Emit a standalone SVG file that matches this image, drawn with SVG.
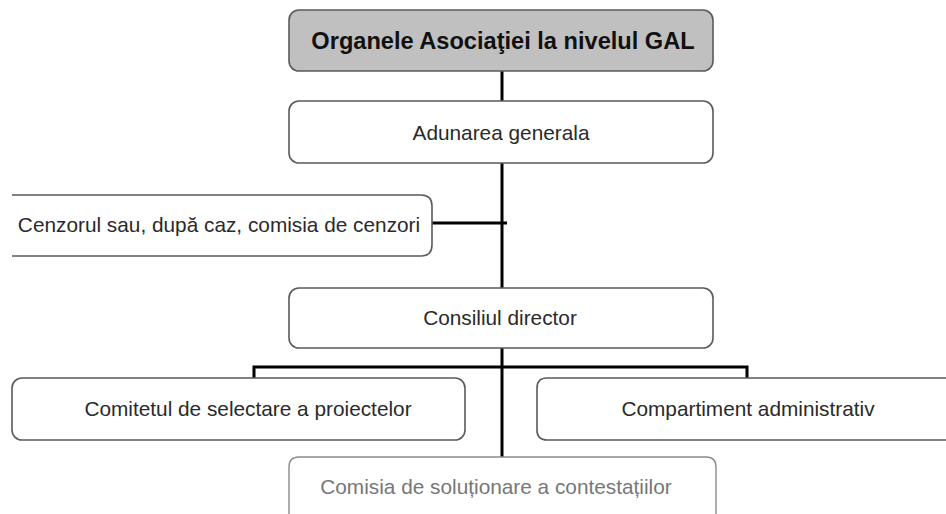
<svg xmlns="http://www.w3.org/2000/svg" width="946" height="514" viewBox="0 0 946 514">
<style>
.box{fill:#ffffff;stroke:#5a5a5a;stroke-width:1.6}
.top{fill:#c0c0c0;stroke:#5a5a5a;stroke-width:1.6}
.faint{fill:#ffffff;stroke:#8a8a8a;stroke-width:1.4}
.t{font-family:"Liberation Sans",Arial,sans-serif;font-size:20.8px;fill:#2a2a2a;text-anchor:middle}
.tb{font-family:"Liberation Sans",Arial,sans-serif;font-size:23.6px;font-weight:bold;fill:#111;text-anchor:middle}
.tg{font-family:"Liberation Sans",Arial,sans-serif;font-size:20.8px;fill:#777;text-anchor:middle}
.c{fill:none;stroke:#000;stroke-width:3}
</style>
<rect width="946" height="514" fill="#fff"/>
<g id="connectors">
<line class="c" x1="502" y1="71" x2="502" y2="101"/>
<line class="c" x1="502" y1="163" x2="502" y2="288"/>
<line class="c" x1="432" y1="223" x2="507" y2="223"/>
<line class="c" x1="502" y1="348" x2="502" y2="457"/>
<polyline class="c" points="254,378 254,367 747,367 747,378"/>
</g>
<g id="n-organele">
<rect class="top" x="289" y="10" width="424" height="61" rx="10"/>
<text class="tb" x="503" y="49">Organele Asociaţiei la nivelul GAL</text>
</g>
<g id="n-adunarea">
<rect class="box" x="289" y="101" width="424" height="62" rx="10"/>
<text class="t" x="501" y="140">Adunarea generala</text>
</g>
<g id="n-cenzor">
<path class="box" d="M12,195 H421 Q432,195 432,206 V245 Q432,256 421,256 H12"/>
<text class="t" x="219" y="232">Cenzorul sau, după caz, comisia de cenzori</text>
</g>
<g id="n-consiliul">
<rect class="box" x="289" y="288" width="424" height="60" rx="10"/>
<text class="t" x="500" y="325">Consiliul director</text>
</g>
<g id="n-comitetul">
<rect class="box" x="12" y="378" width="453" height="62" rx="10"/>
<text class="t" x="248" y="416">Comitetul de selectare a proiectelor</text>
</g>
<g id="n-compartiment">
<path class="box" d="M950,378 H547 Q537,378 537,388 V430 Q537,440 547,440 H950"/>
<text class="t" x="748" y="416">Compartiment administrativ</text>
</g>
<g id="n-comisia">
<path class="faint" d="M289,520 V467 Q289,457 299,457 H706 Q716,457 716,467 V520"/>
<text class="tg" x="496" y="494">Comisia de soluționare a contestațiilor</text>
</g>
</svg>
